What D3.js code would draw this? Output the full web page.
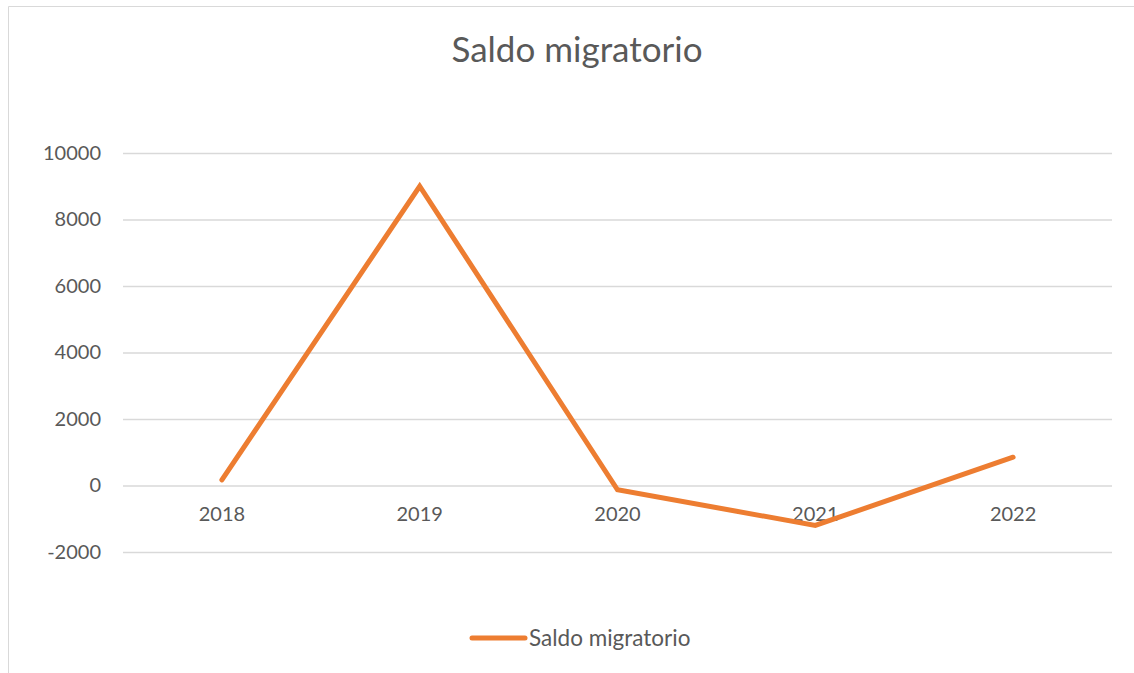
<!DOCTYPE html>
<html>
<head>
<meta charset="utf-8">
<script src="https://cdn.jsdelivr.net/npm/d3@7"></script>
<style>
  body { margin: 0; background: #fff; }
  svg { display: block; font-family: Lato, "Open Sans", sans-serif; }
</style>
</head>
<body>
<div id="chart"></div>
<script>
// Data
const years = ["2018", "2019", "2020", "2021", "2022"];
const saldo = [170, 9000, -130, -1200, 850];
const yTicks = [-2000, 0, 2000, 4000, 6000, 8000, 10000];
const seriesName = "Saldo migratorio";

const W = 1134, H = 673;
const margin = { top: 153, right: 22, bottom: 121, left: 123 };
const width = W - margin.left - margin.right;
const height = H - margin.top - margin.bottom;
const font = "Lato, 'Open Sans', sans-serif";

const svg = d3.select("#chart")
    .append("svg")
    .attr("width", W)
    .attr("height", H);

// chart border (cropped on right/bottom)
svg.append("path")
    .attr("d", `M8.5,${H} V6.5 H${W}`)
    .attr("fill", "none")
    .attr("stroke", "#d9d9d9")
    .attr("stroke-width", 1);

const g = svg.append("g")
    .attr("transform", `translate(${margin.left},${margin.top})`);

// Scales
const x = d3.scaleBand()
    .domain(years)
    .range([0, width]);

const y = d3.scaleLinear()
    .domain([-2000, 10000])
    .range([height, 0]);

// Gridlines
g.append("g")
    .call(d3.axisLeft(y).tickValues(yTicks).tickSize(-width).tickFormat(""))
    .call(a => a.select(".domain").remove())
    .selectAll("line")
    .attr("stroke", "#d9d9d9")
    .attr("stroke-width", 1.3);

// Y labels
g.append("g")
    .call(d3.axisLeft(y).tickValues(yTicks).tickSize(0).tickPadding(22).tickFormat(d => String(d)))
    .call(a => a.select(".domain").remove())
    .attr("font-family", font)
    .selectAll("text")
    .attr("fill", "#595959")
    .style("font-size", "20px");

// X labels (axis at zero)
g.append("g")
    .attr("transform", `translate(0,${y(0)})`)
    .call(d3.axisBottom(x).tickSize(0).tickPadding(21))
    .call(a => a.select(".domain").remove())
    .attr("font-family", font)
    .selectAll("text")
    .attr("fill", "#595959")
    .style("font-size", "20px");

// Line
const line = d3.line()
    .x((d, i) => x(years[i]) + x.bandwidth() / 2)
    .y(d => y(d));

g.append("path")
    .datum(saldo)
    .attr("fill", "none")
    .attr("stroke", "#ed7d31")
    .attr("stroke-width", 5)
    .attr("stroke-linecap", "round")
    .attr("stroke-linejoin", "miter")
    .attr("d", line);

// Title
svg.append("text")
    .attr("x", 577)
    .attr("y", 62)
    .attr("text-anchor", "middle")
    .attr("fill", "#595959")
    .style("font-size", "35px")
    .text(seriesName);

// Legend
const legend = svg.append("g").attr("transform", "translate(472,638)");
legend.append("line")
    .attr("x1", 0).attr("x2", 53)
    .attr("stroke", "#ed7d31")
    .attr("stroke-width", 5)
    .attr("stroke-linecap", "round");
legend.append("text")
    .attr("x", 57)
    .attr("dy", "0.35em")
    .attr("fill", "#595959")
    .style("font-size", "22.5px")
    .text(seriesName);
</script>
</body>
</html>
